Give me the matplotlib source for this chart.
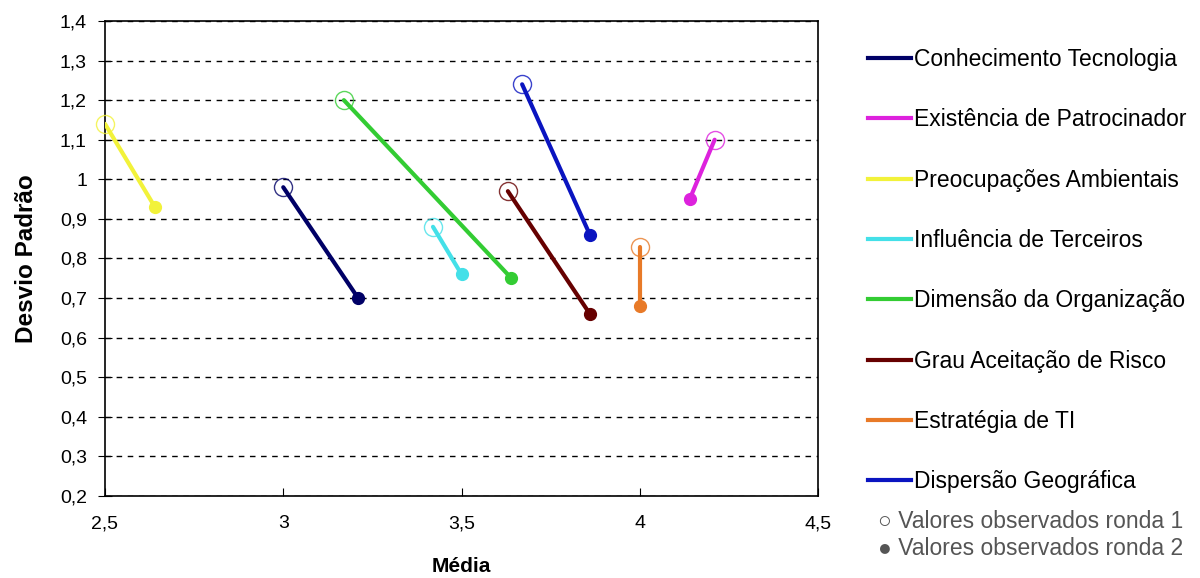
import matplotlib.pyplot as plt
from matplotlib.lines import Line2D
from matplotlib.ticker import FuncFormatter

# Mean / std dev per factor, round 1 (open) and round 2 (filled)
fatores = ['Conhecimento Tecnologia', 'Existência de Patrocinador',
           'Preocupações Ambientais', 'Influência de Terceiros',
           'Dimensão da Organização', 'Grau Aceitação de Risco',
           'Estratégia de TI', 'Dispersão Geográfica']
media_r1 = [3.00, 4.21, 2.50, 3.42, 3.17, 3.63, 4.00, 3.67]
desvio_r1 = [0.98, 1.10, 1.14, 0.88, 1.20, 0.97, 0.83, 1.24]
media_r2 = [3.21, 4.14, 2.64, 3.50, 3.64, 3.86, 4.00, 3.86]
desvio_r2 = [0.70, 0.95, 0.93, 0.76, 0.75, 0.66, 0.68, 0.86]
cores = ['#000066', '#dd22dd', '#f2f23a', '#44e0e8',
         '#33cc33', '#660000', '#e87a28', '#0a14c0']

plt.rcParams['font.family'] = ['Liberation Sans', 'DejaVu Sans']

fig = plt.figure(figsize=(12, 5.78), dpi=100)
ax = fig.add_axes([0.0875, 0.1419, 0.5942, 0.8218])

for i in range(len(fatores)):
    ax.plot([media_r1[i], media_r2[i]], [desvio_r1[i], desvio_r2[i]],
            color=cores[i], lw=3, zorder=3, solid_capstyle='round')
    ax.plot(media_r2[i], desvio_r2[i], 'o', color=cores[i], ms=8.5, zorder=4)
    ax.plot(media_r1[i], desvio_r1[i], 'o', mfc='none', mec=cores[i],
            mew=1, ms=13, zorder=4, alpha=0.8, clip_on=False)

ax.set_xlim(2.5, 4.5)
ax.set_ylim(0.2, 1.4)
ax.set_xticks([2.5, 3, 3.5, 4, 4.5])
ax.set_yticks([0.2 + 0.1 * k for k in range(13)])
virgula = FuncFormatter(lambda v, p: ('%g' % round(v, 2)).replace('.', ','))
ax.xaxis.set_major_formatter(virgula)
ax.yaxis.set_major_formatter(virgula)
ax.tick_params(axis='y', direction='inout', length=10, labelsize=14, pad=8)
ax.tick_params(axis='x', direction='in', length=6, labelsize=14, pad=14)
ax.grid(axis='y', color='black', ls=(0, (4, 4)), lw=1)
ax.set_axisbelow(True)
for s in ax.spines.values():
    s.set_linewidth(1.2)

ax.set_xlabel('Média', fontsize=15, fontweight='bold', labelpad=18)
ax.set_ylabel('Desvio Padrão', fontsize=17.5, fontweight='bold', labelpad=16)

handles = [Line2D([0], [0], color=c, lw=3) for c in cores]
fig.legend(handles, fatores, loc='upper left', bbox_to_anchor=(0.716, 0.933),
           frameon=False, fontsize=16.5, handlelength=1.85, handletextpad=0.12,
           labelspacing=1.63, borderaxespad=0)

fig.text(0.732, 0.0986, '○ Valores observados ronda 1', fontsize=16.5,
         color='#555555', va='center')
fig.text(0.732, 0.0519, '● Valores observados ronda 2', fontsize=16.5,
         color='#555555', va='center')

fig.savefig('out.png', dpi=100)
